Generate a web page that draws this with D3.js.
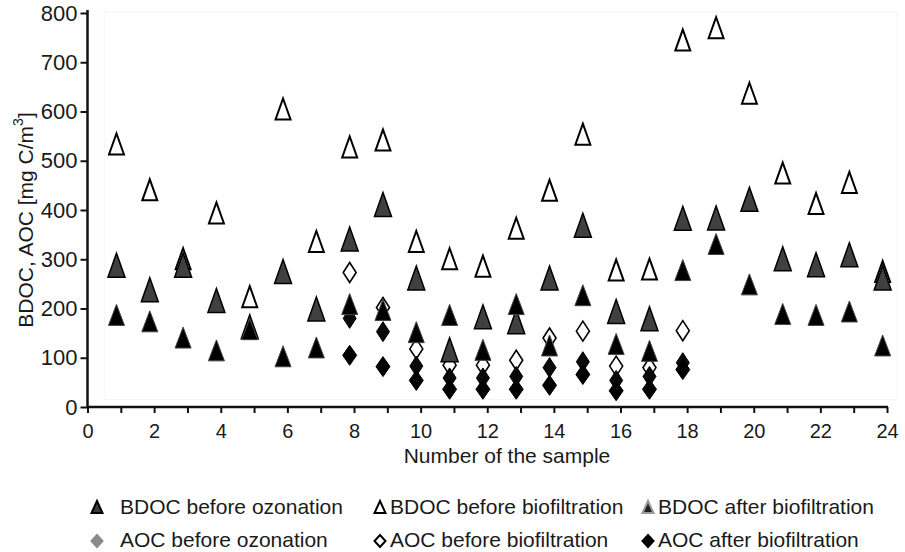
<!DOCTYPE html>
<html>
<head>
<meta charset="utf-8">
<script src="https://cdn.jsdelivr.net/npm/d3@7"></script>
<style>
  html, body { margin: 0; padding: 0; background: #fff; }
  svg { display: block; }
  text { font-family: "Liberation Sans", Arial, sans-serif; fill: #1a1a1a; }
</style>
</head>
<body>
<svg id="chart" width="905" height="552"></svg>
<script>
// ---- data ----
const sampleX = [0.87,1.87,2.87,3.87,4.87,5.87,6.87,7.87,8.87,9.87,10.87,11.87,12.87,13.87,14.87,15.87,16.87,17.87,18.87,19.87,20.87,21.87,22.87,23.87];
const bdocBeforeOzonation   = [288,238,288,216,163,275,199,341,411,262,116,183,173,262,369,194,179,383,384,422,301,289,309,262];
const bdocBeforeBiofiltration = [534,441,301,394,224,605,336,528,542,336,301,286,363,440,554,278,280,745,770,637,475,413,456,275];
const bdocAfterBiofiltration  = [187,174,141,115,158,103,121,209,197,152,187,116,209,125,227,128,114,278,331,249,189,187,194,125];
const aocX = [7.87,8.87,9.87,10.87,11.87,12.87,13.87,14.87,15.87,16.87,17.87];
const aocBeforeOzonation    = [180,153,83,59,59,62,80,92,54,62,90];
const aocBeforeBiofiltration  = [273,202,118,85,85,95,140,154,83,80,155];
const aocAfterBiofiltration   = [105,82,54,36,36,36,44,66,33,36,76];
const xTicks = [0,2,4,6,8,10,12,14,16,18,20,22,24];
const yTicks = [0,100,200,300,400,500,600,700,800];
const seriesNames = ["BDOC before ozonation","BDOC before biofiltration","BDOC after biofiltration",
                     "AOC before ozonation","AOC before biofiltration","AOC after biofiltration"];

const svg = d3.select("#chart");
const x = d3.scaleLinear().domain([0, 24]).range([87.5, 887]);
const y = d3.scaleLinear().domain([0, 800]).range([407, 13]);

// marker paths
function tri(w, h) { return `M0,${-h/2}L${w/2},${h/2}L${-w/2},${h/2}Z`; }
function dia(w, h) { return `M0,${-h/2}L${w/2},0L0,${h/2}L${-w/2},0Z`; }

const styles = {
  "BDOC before ozonation":    {shape: tri, w: 17, h: 24, fill: "#404040", stroke: "#000", sw: 1.5, lw: 11, lh: 12, lfill: "#3a3a3a", lstroke: "#000"},
  "BDOC before biofiltration":{shape: tri, w: 15, h: 21, fill: "#fff",    stroke: "#000", sw: 2,   lw: 11, lh: 12, lfill: "#fff", lstroke: "#000"},
  "BDOC after biofiltration": {shape: tri, w: 16, h: 21, fill: "#000",    stroke: "#444", sw: 1,   lw: 11, lh: 12, lfill: "#222", lstroke: "#999"},
  "AOC before ozonation":     {shape: dia, w: 13, h: 20, fill: "#0a0a0a", stroke: "#000", sw: 1,   lw: 11, lh: 12, lfill: "#8a8a8a", lstroke: "#8a8a8a"},
  "AOC before biofiltration": {shape: dia, w: 13, h: 20, fill: "#fff",    stroke: "#000", sw: 1.6, lw: 11, lh: 12, lfill: "#fff", lstroke: "#000"},
  "AOC after biofiltration":  {shape: dia, w: 14, h: 20, fill: "#000",    stroke: "#000", sw: 1,   lw: 11, lh: 12, lfill: "#000", lstroke: "#000"}
};

// faint plot-area frame
svg.append("rect")
  .attr("x", x(0.5)).attr("y", y(800) - 1)
  .attr("width", x(24.3) - x(0.5)).attr("height", y(15) - y(800) + 1)
  .attr("fill", "none").attr("stroke", "#e8e8e8").attr("stroke-width", 1)
  .attr("stroke-dasharray", "1,1");

// axes
const xAxis = d3.axisBottom(x).tickValues(d3.range(0, 25, 1)).tickSize(6).tickSizeOuter(0)
  .tickFormat(d => xTicks.includes(d) ? d : "");
const gx = svg.append("g").attr("transform", `translate(0,${y(0)})`).call(xAxis);
gx.select(".domain").attr("stroke", "#111").attr("stroke-width", 2.5).attr("d", `M${x(0)},0H${x(24)+1}`);
gx.selectAll(".tick line").attr("stroke", "#111").attr("stroke-width", 2);
gx.selectAll(".tick text").attr("font-size", 20).attr("dy", "1.1em").attr("fill", "#1a1a1a")
  .style("font-family", '"Liberation Sans", Arial, sans-serif');

const yAxis = d3.axisLeft(y).tickValues(yTicks).tickSize(7).tickSizeOuter(0).tickPadding(3);
const gy = svg.append("g").attr("transform", `translate(${x(0)},0)`).call(yAxis);
gy.select(".domain").attr("stroke", "#111").attr("stroke-width", 2.5).attr("d", `M0,${y(0)+1}V${y(800)-3}`);
gy.selectAll(".tick line").attr("stroke", "#111").attr("stroke-width", 2);
gy.selectAll(".tick text").attr("font-size", 22).attr("fill", "#1a1a1a")
  .style("font-family", '"Liberation Sans", Arial, sans-serif');

// axis titles
svg.append("text").attr("x", 507).attr("y", 463).attr("text-anchor", "middle")
  .attr("font-size", 21).text("Number of the sample");
const yt = svg.append("text").attr("transform", "translate(33,220) rotate(-90)")
  .attr("text-anchor", "middle").attr("font-size", 21);
yt.append("tspan").text("BDOC, AOC [mg C/m");
yt.append("tspan").attr("font-size", 14).attr("dy", -10).text("3");
yt.append("tspan").attr("dy", 10).text("]");

// series (drawing order chosen to reproduce overlaps)
const seriesData = {
  "BDOC before ozonation": sampleX.map((v, i) => [v, bdocBeforeOzonation[i]]),
  "BDOC before biofiltration": sampleX.map((v, i) => [v, bdocBeforeBiofiltration[i]]),
  "BDOC after biofiltration": sampleX.map((v, i) => [v, bdocAfterBiofiltration[i]]),
  "AOC before ozonation": aocX.map((v, i) => [v, aocBeforeOzonation[i]]),
  "AOC before biofiltration": aocX.map((v, i) => [v, aocBeforeBiofiltration[i]]),
  "AOC after biofiltration": aocX.map((v, i) => [v, aocAfterBiofiltration[i]])
};
const drawOrder = ["AOC before biofiltration","AOC before ozonation","AOC after biofiltration",
                   "BDOC before biofiltration","BDOC before ozonation","BDOC after biofiltration"];
drawOrder.forEach(name => {
  const s = styles[name];
  svg.append("g").attr("class", "series")
    .selectAll("path").data(seriesData[name]).join("path")
    .attr("transform", d => `translate(${x(d[0])},${y(d[1])})`)
    .attr("d", s.shape(s.w, s.h))
    .attr("fill", s.fill).attr("stroke", s.stroke).attr("stroke-width", s.sw)
    .attr("stroke-linejoin", "miter");
});

// legend
const legX = [97, 380, 648], legTextX = [120, 390, 658], legSymY = [507, 541], legBase = [514, 547];
seriesNames.forEach((name, i) => {
  const col = i % 3, row = Math.floor(i / 3);
  const s = styles[name];
  const g = svg.append("g").attr("class", "legend-item");
  g.append("path").attr("transform", `translate(${legX[col]},${legSymY[row]})`)
    .attr("d", s.shape(s.lw, s.lh)).attr("fill", s.lfill).attr("stroke", s.lstroke).attr("stroke-width", 2);
  g.append("text").attr("x", legTextX[col]).attr("y", legBase[row])
    .attr("font-size", 21).text(name);
});
</script>
</body>
</html>
